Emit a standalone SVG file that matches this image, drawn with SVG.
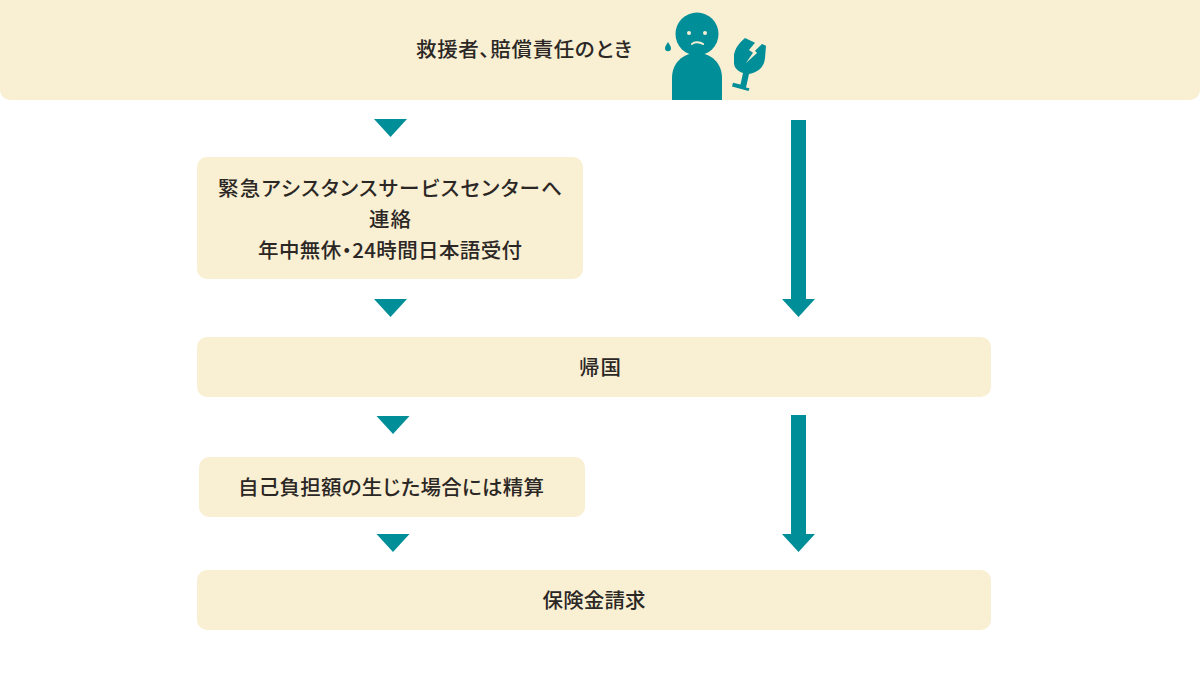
<svg xmlns="http://www.w3.org/2000/svg" width="1200" height="688" viewBox="0 0 1200 688">
<style>
.box{fill:#f9efd2}
.teal{fill:#008f98}
.eye{fill:#f9efd2}
text{font-family:"Noto Sans CJK JP","Noto Sans",sans-serif;font-size:20.500px;font-weight:500;fill:#2b2725;text-anchor:middle;font-feature-settings:"palt"}
</style>
<defs>
<path id="tri" d="M-16.500 0H16.500L0 18Z" class="teal"/>
</defs>
<rect width="1200" height="688" fill="#fff"/>
<g id="node-top">
<rect class="box" x="0" y="-12" width="1200" height="112" rx="10"/>
<text x="524" y="57" textLength="216" lengthAdjust="spacing">救援者、賠償責任のとき</text>
</g>
<g id="figure">
<circle class="teal" cx="697" cy="34" r="21.500"/>
<path class="teal" d="M672 100V78C672 63 683 53 697 53S722 63 722 78V100Z"/>
<circle class="eye" cx="689" cy="33" r="2"/>
<circle class="eye" cx="705" cy="33" r="2"/>
<path d="M692 44C694 41.500 700 41.500 703 44" fill="none" stroke="#f9efd2" stroke-width="2" stroke-linecap="round"/>
<path class="teal" d="M668 42C666.500 44.500 665 46.500 665 48.200A3 3 0 0 0 671 48.200C671 46.500 669.500 44.500 668 42Z"/>
<path class="teal" d="M745 38L755 42.700L749 50L753 52.700L746 63L757 53L755 50.700L762 44L766 45.700L765 58C764 66 760 72 749 74L746 87.500L749.500 88.300L748.500 91L732 86.500L733 82.700L740.500 84.500L743 73C737 71 734 67 734 63L734 55C735 49 738 44 745 38Z"/>
</g>
<g id="node-assist">
<rect class="box" x="197" y="157" width="386" height="122" rx="10"/>
<text x="390" y="196" textLength="344" lengthAdjust="spacing">緊急アシスタンスサービスセンターへ</text>
<text x="390" y="227" textLength="42" lengthAdjust="spacing">連絡</text>
<text x="390" y="258" textLength="264" lengthAdjust="spacing">年中無休・24時間日本語受付</text>
</g>
<g id="node-return">
<rect class="box" x="197" y="337" width="794" height="60" rx="10"/>
<text x="600" y="375" textLength="42" lengthAdjust="spacing">帰国</text>
</g>
<g id="node-settle">
<rect class="box" x="199" y="457" width="386" height="60" rx="10"/>
<text x="391" y="495" textLength="306" lengthAdjust="spacing">自己負担額の生じた場合には精算</text>
</g>
<g id="node-claim">
<rect class="box" x="197" y="570" width="794" height="60" rx="10"/>
<text x="594" y="608" textLength="103" lengthAdjust="spacing">保険金請求</text>
</g>
<g id="connectors">
<use href="#tri" x="390.500" y="119"/>
<use href="#tri" x="390.500" y="299"/>
<use href="#tri" x="393" y="416"/>
<use href="#tri" x="393" y="534"/>
<path class="teal" d="M791 120H806V299H815L798.500 317L782 299H791Z"/>
<path class="teal" d="M791 415H806V534H815L798.500 552L782 534H791Z"/>
</g>
</svg>
